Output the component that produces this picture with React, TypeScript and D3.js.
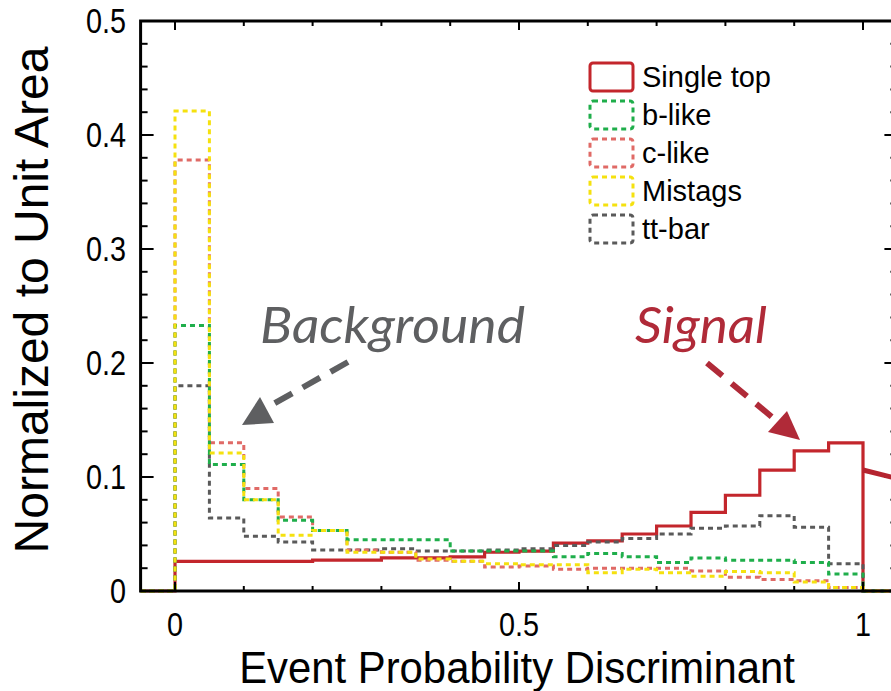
import React from "react";
import * as d3 from "d3";

// ---- data ----
const binEdges = [0, 0.05, 0.1, 0.15, 0.2, 0.25, 0.3, 0.35, 0.4, 0.45, 0.5, 0.55, 0.6, 0.65, 0.7, 0.75, 0.8, 0.85, 0.9, 0.95, 1.0];
const singleTop = [0.026, 0.026, 0.026, 0.026, 0.027, 0.027, 0.029, 0.029, 0.030, 0.034, 0.035, 0.042, 0.044, 0.050, 0.057, 0.069, 0.084, 0.106, 0.123, 0.130];
const bLike = [0.233, 0.111, 0.080, 0.062, 0.053, 0.045, 0.045, 0.045, 0.035, 0.035, 0.035, 0.030, 0.033, 0.030, 0.025, 0.029, 0.027, 0.027, 0.025, 0.015];
const cLike = [0.378, 0.130, 0.090, 0.065, 0.053, 0.036, 0.034, 0.027, 0.026, 0.021, 0.022, 0.019, 0.020, 0.020, 0.020, 0.0175, 0.012, 0.010, 0.009, 0.003];
const mistags = [0.421, 0.121, 0.080, 0.049, 0.053, 0.034, 0.034, 0.028, 0.026, 0.024, 0.023, 0.023, 0.016, 0.019, 0.016, 0.013, 0.017, 0.016, 0.008, 0.003];
const ttBar = [0.180, 0.064, 0.048, 0.043, 0.036, 0.036, 0.037, 0.035, 0.035, 0.036, 0.037, 0.040, 0.043, 0.046, 0.050, 0.055, 0.057, 0.066, 0.056, 0.024];

const seriesNames = ["Single top", "b-like", "c-like", "Mistags", "tt-bar"];
const seriesValues = [singleTop, bLike, cLike, mistags, ttBar];
const seriesColors = ["#c3262c", "#1fae4b", "#e06a66", "#f5e10f", "#5a5a5a"];

const xDomain = [-0.05, 1.05];
const yDomain = [0, 0.5];
const xMajorTicks = [0, 0.5, 1];
const xTickLabels = ["0", "0.5", "1"];
const xMinorTicks = [0.1, 0.2, 0.3, 0.4, 0.6, 0.7, 0.8, 0.9];
const yMajorTicks = [0, 0.1, 0.2, 0.3, 0.4, 0.5];
const yTickLabels = ["0", "0.1", "0.2", "0.3", "0.4", "0.5"];
const yMinorTicks = [0.02, 0.04, 0.06, 0.08, 0.12, 0.14, 0.16, 0.18, 0.22, 0.24, 0.26, 0.28, 0.32, 0.34, 0.36, 0.38, 0.42, 0.44, 0.46, 0.48];

const xTitle = "Event Probability Discriminant";
const yTitle = "Normalized to Unit Area";

export default function App() {
  const W = 891, H = 691;
  const x = d3.scaleLinear().domain(xDomain).range([140.6, 897.4]);
  const y = d3.scaleLinear().domain(yDomain).range([591, 21]);

  const line = d3.line<[number, number]>().x(d => x(d[0])).y(d => y(d[1])).curve(d3.curveStepAfter);
  const pathFor = (vals: number[]) => {
    const pts: [number, number][] = [[xDomain[0], 0]];
    vals.forEach((v, i) => pts.push([binEdges[i], v]));
    pts.push([binEdges[binEdges.length - 1], 0]);
    pts.push([xDomain[1], 0]);
    return line(pts) || "";
  };

  const drawOrder = [0, 4, 2, 1, 3];
  const font = "'Liberation Sans', Arial, Helvetica, sans-serif";
  const annFont = "Lato, 'Open Sans', sans-serif";
  const gray = "#5e5f61";
  const sigRed = "#b02a38";

  const legendX = 590, legendY0 = 63, legendDY = 38;

  return (
    <svg width={W} height={H} style={{ position: "absolute", left: 0, top: 0, background: "#fff" }}>
      <rect x={0} y={0} width={W} height={H} fill="#fff" />
      {/* histograms */}
      {drawOrder.map(si => (
        <path key={si} d={pathFor(seriesValues[si])} fill="none" stroke={seriesColors[si]}
          strokeWidth={si === 0 ? 3.2 : 3} strokeDasharray={si === 0 ? undefined : "5 4"} />
      ))}
      {/* frame */}
      <rect x={x(xDomain[0])} y={y(yDomain[1])} width={x(xDomain[1]) - x(xDomain[0])} height={y(0) - y(yDomain[1])}
        fill="none" stroke="#000" strokeWidth={3} />
      {/* x ticks bottom & top */}
      {xMajorTicks.map(t => (
        <g key={"xM" + t}>
          <line x1={x(t)} x2={x(t)} y1={y(0)} y2={y(0) - 9} stroke="#000" strokeWidth={2} />
          <line x1={x(t)} x2={x(t)} y1={y(0.5)} y2={y(0.5) + 9} stroke="#000" strokeWidth={2} />
        </g>
      ))}
      {xMinorTicks.map(t => (
        <g key={"xm" + t}>
          <line x1={x(t)} x2={x(t)} y1={y(0)} y2={y(0) - 5} stroke="#000" strokeWidth={2} />
          <line x1={x(t)} x2={x(t)} y1={y(0.5)} y2={y(0.5) + 5} stroke="#000" strokeWidth={2} />
        </g>
      ))}
      {/* y ticks left & right */}
      {yMajorTicks.map(t => (
        <g key={"yM" + t}>
          <line x1={x(xDomain[0])} x2={x(xDomain[0]) + 13} y1={y(t)} y2={y(t)} stroke="#000" strokeWidth={2} />
          <line x1={x(xDomain[1])} x2={x(xDomain[1]) - 13} y1={y(t)} y2={y(t)} stroke="#000" strokeWidth={2} />
        </g>
      ))}
      {yMinorTicks.map(t => (
        <g key={"ym" + t}>
          <line x1={x(xDomain[0])} x2={x(xDomain[0]) + 7} y1={y(t)} y2={y(t)} stroke="#000" strokeWidth={2} />
          <line x1={x(xDomain[1])} x2={x(xDomain[1]) - 7} y1={y(t)} y2={y(t)} stroke="#000" strokeWidth={2} />
        </g>
      ))}
      {/* tick labels */}
      {yMajorTicks.map((t, i) => (
        <text key={"yl" + t} transform={`translate(126,${y(t) + 12}) scale(0.9,1.08)`} textAnchor="end" fontFamily={font} fontSize={32} fill="#000">{yTickLabels[i]}</text>
      ))}
      {xMajorTicks.map((t, i) => (
        <text key={"xl" + t} transform={`translate(${x(t)},636) scale(0.9,1.05)`} textAnchor="middle" fontFamily={font} fontSize={32} fill="#000">{xTickLabels[i]}</text>
      ))}
      {/* axis titles */}
      <text transform="translate(517,683) scale(0.93,1)" textAnchor="middle" fontFamily={font} fontSize={45} fill="#000">{xTitle}</text>
      <text transform="translate(48,300) rotate(-90)" textAnchor="middle" fontFamily={font} fontSize={48} fill="#000">{yTitle}</text>
      {/* legend */}
      {seriesNames.map((n, i) => (
        <g key={n}>
          <rect x={legendX} y={legendY0 + i * legendDY} width={43} height={28} rx={3} fill="none"
            stroke={seriesColors[i]} strokeWidth={3} strokeDasharray={i === 0 ? undefined : "5 4"} />
          <text x={642} y={legendY0 + i * legendDY + 24} fontFamily={font} fontSize={29} fill="#000">{n}</text>
        </g>
      ))}
      {/* annotations */}
      <text x={260} y={343} fontFamily={annFont} fontStyle="italic" fontSize={50} fill={gray}
        textLength={265} lengthAdjust="spacingAndGlyphs">Background</text>
      <line x1={348} y1={362} x2={268} y2={407} stroke={gray} strokeWidth={6} strokeDasharray="20 12" />
      <polygon points="242,425 260,397 274,423" fill={gray} />
      <text x={635} y={343} fontFamily={annFont} fontStyle="italic" fontSize={50} fill={sigRed}
        textLength={132} lengthAdjust="spacingAndGlyphs">Signal</text>
      <line x1={707} y1={363} x2={778} y2={422} stroke={sigRed} strokeWidth={6} strokeDasharray="20 12" />
      <polygon points="800,440 768,432 787,411" fill={sigRed} />
      <line x1={863} y1={470} x2={895} y2={478} stroke="#b5242f" strokeWidth={5} />
    </svg>
  );
}
